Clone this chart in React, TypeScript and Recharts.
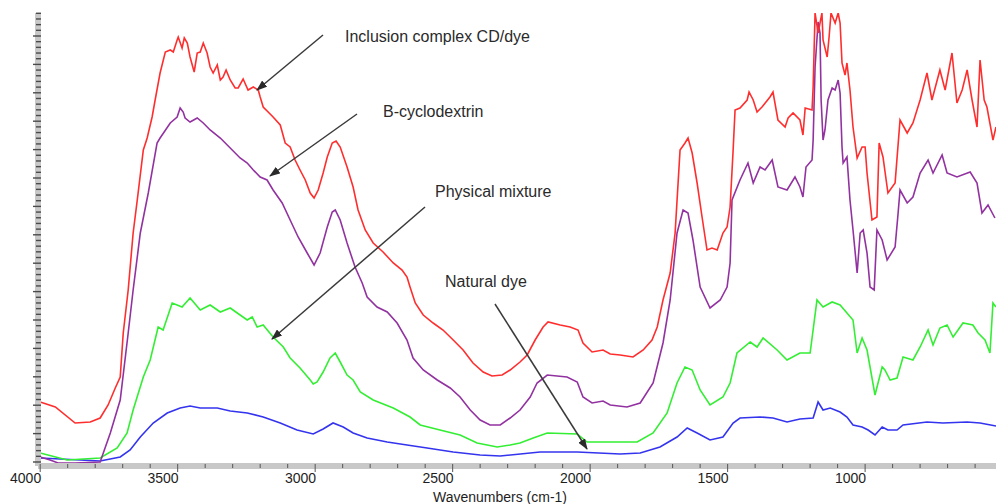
import React from "react";
import { LineChart, Line, XAxis, YAxis } from "recharts";

// [wavenumber cm-1, absorbance (a.u.)]
const inclusionComplex: [number, number][] = [
  [4000, 61], [3945, 56], [3873, 40], [3818, 41], [3782, 45], [3753, 58], [3727, 75], [3709, 86],
  [3698, 130], [3680, 173], [3662, 230], [3647, 263], [3625, 313], [3611, 325], [3593, 346], [3582, 363],
  [3564, 390], [3545, 411], [3527, 413], [3516, 411], [3502, 423], [3498, 426], [3484, 415], [3476, 425],
  [3465, 420], [3455, 406], [3440, 391], [3429, 410], [3418, 411], [3407, 420], [3393, 410], [3382, 396],
  [3371, 390], [3356, 398], [3345, 383], [3335, 386], [3324, 393], [3309, 383], [3291, 375], [3280, 375],
  [3262, 384], [3244, 373], [3225, 376], [3207, 373], [3200, 366], [3189, 356], [3153, 346], [3127, 338],
  [3109, 320], [3091, 316], [3073, 303], [3055, 293], [3036, 283], [3018, 270], [3004, 265], [2989, 273],
  [2971, 290], [2956, 306], [2938, 320], [2924, 322], [2909, 316], [2884, 296], [2862, 276], [2844, 253],
  [2818, 233], [2789, 220], [2753, 211], [2716, 200], [2684, 193], [2666, 186], [2655, 176], [2636, 160],
  [2607, 148], [2571, 140], [2535, 133], [2498, 123], [2462, 113], [2426, 100], [2389, 91], [2357, 87],
  [2320, 88], [2291, 93], [2255, 101], [2229, 108], [2200, 123], [2171, 136], [2153, 141], [2109, 138],
  [2073, 136], [2044, 133], [2026, 120], [1993, 111], [1953, 113], [1927, 109], [1891, 108], [1844, 106],
  [1807, 113], [1775, 123], [1756, 136], [1735, 163], [1709, 190], [1691, 230], [1673, 313], [1655, 320],
  [1644, 325], [1629, 310], [1611, 280], [1593, 246], [1575, 213], [1557, 215], [1538, 213], [1517, 230],
  [1502, 236], [1491, 256], [1480, 313], [1473, 353], [1455, 355], [1429, 363], [1422, 371], [1407, 363],
  [1393, 351], [1375, 356], [1346, 366], [1335, 371], [1317, 343], [1291, 336], [1280, 345], [1262, 350],
  [1237, 343], [1226, 328], [1218, 355], [1193, 353], [1189, 376], [1182, 450], [1171, 430], [1157, 450],
  [1153, 423], [1138, 406], [1131, 426], [1124, 450], [1109, 440], [1098, 450], [1091, 440], [1084, 400],
  [1073, 388], [1066, 400], [1055, 373], [1044, 336], [1029, 305], [1011, 316], [1000, 316], [993, 290],
  [975, 243], [957, 246], [949, 320], [935, 306], [917, 270], [891, 280], [873, 343], [847, 330],
  [826, 340], [800, 363], [775, 390], [757, 363], [728, 393], [709, 373], [684, 410], [666, 360],
  [647, 373], [629, 393], [611, 363], [593, 336], [582, 403], [567, 363], [557, 356], [535, 323], [524, 336],
];

const betaCyclodextrin: [number, number][] = [
  [4000, 6], [3964, 3], [3935, 0], [3873, 0], [3782, 1], [3745, 30], [3709, 63], [3680, 130],
  [3662, 173], [3636, 230], [3607, 270], [3575, 320], [3564, 325], [3527, 340], [3502, 346], [3491, 355],
  [3480, 351], [3473, 345], [3455, 341], [3429, 345], [3407, 340], [3382, 333], [3345, 325], [3273, 305],
  [3247, 300], [3225, 293], [3200, 286], [3175, 283], [3153, 273], [3120, 260], [3091, 243], [3062, 226],
  [3029, 210], [3004, 198], [2982, 210], [2956, 236], [2938, 251], [2927, 253], [2909, 243], [2884, 220],
  [2855, 196], [2829, 180], [2811, 166], [2775, 156], [2738, 151], [2702, 140], [2666, 123], [2644, 105],
  [2607, 93], [2556, 83], [2509, 75], [2473, 66], [2436, 53], [2400, 43], [2364, 38], [2327, 38],
  [2291, 45], [2255, 53], [2218, 66], [2193, 80], [2156, 88], [2084, 86], [2047, 81], [2026, 66],
  [1993, 60], [1953, 62], [1927, 58], [1866, 56], [1818, 60], [1771, 80], [1735, 120], [1709, 163],
  [1684, 230], [1662, 253], [1644, 250], [1626, 223], [1600, 176], [1564, 155], [1527, 163], [1502, 176],
  [1491, 200], [1484, 263], [1455, 283], [1426, 300], [1407, 280], [1382, 296], [1364, 293], [1338, 303],
  [1317, 276], [1284, 273], [1255, 286], [1237, 276], [1226, 266], [1215, 296], [1193, 303], [1189, 323],
  [1182, 396], [1171, 441], [1164, 430], [1160, 363], [1153, 323], [1146, 333], [1135, 363], [1120, 375],
  [1109, 373], [1098, 383], [1091, 370], [1084, 316], [1080, 300], [1066, 306], [1055, 263], [1044, 233],
  [1029, 190], [1018, 230], [1007, 233], [993, 210], [982, 176], [967, 173], [957, 233], [938, 223],
  [920, 203], [891, 216], [880, 250], [873, 273], [847, 260], [826, 266], [800, 290], [771, 303],
  [753, 290], [720, 308], [702, 290], [666, 286], [618, 291], [593, 280], [575, 250], [553, 258], [528, 245],
];

const physicalMixture: [number, number][] = [
  [4000, 10], [3902, 3], [3782, 5], [3720, 15], [3684, 30], [3662, 53], [3625, 86], [3600, 103],
  [3571, 136], [3553, 133], [3520, 160], [3484, 156], [3455, 165], [3418, 153], [3382, 158], [3345, 151],
  [3309, 155], [3273, 148], [3247, 143], [3229, 146], [3211, 136], [3189, 138], [3153, 126], [3116, 116],
  [3091, 105], [3055, 95], [3018, 83], [3007, 79], [2993, 81], [2971, 91], [2946, 105], [2927, 110],
  [2909, 101], [2884, 88], [2862, 83], [2836, 71], [2789, 63], [2716, 55], [2655, 46], [2618, 38],
  [2546, 33], [2473, 28], [2411, 20], [2338, 16], [2291, 18], [2255, 20], [2207, 25], [2156, 30],
  [2047, 29], [2011, 21], [1829, 21], [1771, 30], [1720, 50], [1684, 80], [1655, 96], [1629, 93],
  [1600, 73], [1564, 58], [1517, 66], [1491, 80], [1466, 110], [1418, 121], [1393, 116], [1371, 125],
  [1320, 113], [1284, 103], [1237, 110], [1200, 110], [1175, 163], [1153, 156], [1120, 161], [1091, 158],
  [1066, 150], [1044, 143], [1029, 110], [1011, 125], [993, 113], [964, 68], [953, 80], [938, 96],
  [928, 93], [909, 83], [884, 85], [862, 106], [826, 103], [800, 116], [771, 133], [753, 118],
  [728, 135], [702, 138], [680, 126], [644, 140], [608, 138], [589, 130], [564, 123], [546, 110],
  [535, 160], [524, 156],
];

const naturalDye: [number, number][] = [
  [4000, 5], [3782, 2], [3709, 6], [3673, 13], [3636, 26], [3589, 40], [3538, 50], [3491, 55],
  [3455, 57], [3418, 55], [3356, 55], [3309, 52], [3247, 50], [3189, 46], [3127, 40], [3066, 33],
  [3007, 29], [2971, 34], [2935, 40], [2898, 36], [2862, 30], [2811, 25], [2738, 21], [2666, 18],
  [2593, 15], [2498, 11], [2400, 8], [2327, 7], [2182, 11], [2047, 11], [1891, 9], [1818, 10],
  [1746, 16], [1684, 26], [1647, 35], [1611, 30], [1564, 23], [1517, 26], [1480, 40], [1455, 45],
  [1382, 46], [1335, 45], [1284, 41], [1237, 44], [1189, 45], [1171, 61], [1153, 53], [1127, 55],
  [1091, 51], [1066, 46], [1044, 38], [1011, 36], [989, 33], [964, 28], [938, 36], [917, 33],
  [884, 33], [862, 38], [775, 41], [717, 40], [629, 41], [582, 40], [524, 37],
];

const X_TICKS = [
  4000, 3900, 3800, 3700, 3600, 3500, 3400, 3300, 3200, 3100, 3000, 2900, 2800, 2700, 2600, 2500,
  2400, 2300, 2200, 2100, 2000, 1900, 1800, 1700, 1600, 1500, 1400, 1300, 1200, 1100, 1000, 900,
  800, 700, 600,
];
const X_LABELS = [4000, 3500, 3000, 2500, 2000, 1500, 1000];

// dense minor ticks on the left axis, every 5th one longer
const Y_STEP = 5.68;
const Y_TICKS = Array.from({ length: 80 }, (_, i) => 1 + i * Y_STEP);

const FONT = "'Liberation Sans', Arial, sans-serif";

const toPoints = (pairs: [number, number][]) => pairs.map(([wn, v]) => ({ wn, v }));

const SERIES = [
  { name: "Natural dye", color: "#3434ee", data: toPoints(naturalDye) },
  { name: "Physical mixture", color: "#33ee33", data: toPoints(physicalMixture) },
  { name: "B-cyclodextrin", color: "#9232a0", data: toPoints(betaCyclodextrin) },
  { name: "Inclusion complex CD/dye", color: "#ff2e2e", data: toPoints(inclusionComplex) },
];

const ANNOTATIONS = [
  { text: "Inclusion complex CD/dye", tx: 345, ty: 42, from: [323, 35], to: [257, 90] },
  { text: "B-cyclodextrin", tx: 383, ty: 117, from: [357, 114], to: [270, 176] },
  { text: "Physical mixture", tx: 435, ty: 197, from: [425, 207], to: [272, 339] },
  { text: "Natural dye", tx: 445, ty: 287, from: [495, 304], to: [587, 449] },
];

function XTick(props: any) {
  const { x, payload } = props;
  const major = X_LABELS.includes(payload.value);
  return (
    <g>
      <line x1={x} x2={x} y1={464} y2={major ? 472 : 468} stroke="#555" strokeWidth={1} />
      {major && (
        <text x={x + 1} y={483} textAnchor="end" fontSize={14} fontFamily={FONT} fill="#1e1e1e">
          {payload.value}
        </text>
      )}
    </g>
  );
}

function YTick(props: any) {
  const { y, payload } = props;
  const major = Math.round((payload.value - 1) / Y_STEP) % 5 === 0;
  return <line x1={major ? 33 : 36} x2={41} y1={y} y2={y} stroke="#4a4a4a" strokeWidth={1.4} />;
}

export default function App() {
  return (
    <div style={{ position: "absolute", left: 0, top: 0, width: 996, height: 504, background: "#fff" }}>
      <LineChart width={996} height={504} margin={{ top: 13, right: 0, bottom: 0, left: 0 }}>
        <XAxis
          dataKey="wn"
          type="number"
          domain={[524, 4008]}
          reversed
          allowDataOverflow
          ticks={X_TICKS}
          interval={0}
          tick={<XTick />}
          tickLine={false}
          axisLine={{ stroke: "#c8c8c8", strokeWidth: 6 }}
          height={38}
        />
        <YAxis
          type="number"
          domain={[-3, 450]}
          allowDataOverflow
          ticks={Y_TICKS}
          interval={0}
          tick={<YTick />}
          tickLine={false}
          axisLine={{ stroke: "#c8c8c8", strokeWidth: 6 }}
          width={38}
        />
        {SERIES.map((s) => (
          <Line
            key={s.name}
            name={s.name}
            data={s.data}
            dataKey="v"
            type="linear"
            stroke={s.color}
            strokeWidth={1.6}
            dot={false}
            activeDot={false}
            isAnimationActive={false}
          />
        ))}
      </LineChart>
      <svg
        width={996}
        height={504}
        style={{ position: "absolute", left: 0, top: 0, pointerEvents: "none" }}
      >
        <defs>
          <marker id="arrow" markerWidth={11} markerHeight={8} refX={10} refY={4} orient="auto" markerUnits="userSpaceOnUse">
            <path d="M0,0 L11,4 L0,8 z" fill="#2a2a2a" />
          </marker>
        </defs>
        {ANNOTATIONS.map((a) => (
          <g key={a.text}>
            <line
              x1={a.from[0]}
              y1={a.from[1]}
              x2={a.to[0]}
              y2={a.to[1]}
              stroke="#3a3a3a"
              strokeWidth={1.5}
              markerEnd="url(#arrow)"
            />
            <text x={a.tx} y={a.ty} fontSize={16} fontFamily={FONT} fill="#2a2a2a">
              {a.text}
            </text>
          </g>
        ))}
        <text x={500} y={502} textAnchor="middle" fontSize={14} fontFamily={FONT} fill="#1e1e1e">
          Wavenumbers (cm-1)
        </text>
      </svg>
    </div>
  );
}
